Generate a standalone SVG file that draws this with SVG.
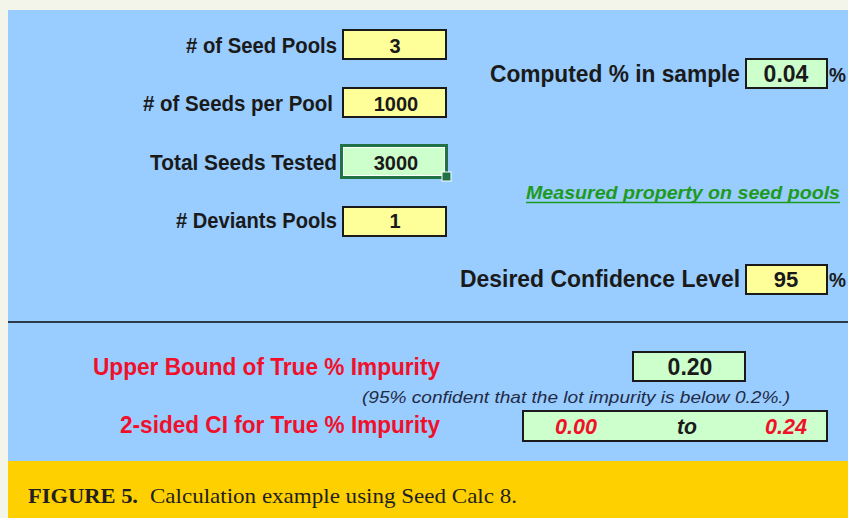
<svg xmlns="http://www.w3.org/2000/svg" width="848" height="518" viewBox="0 0 848 518">
<style>
.lbl{font-family:"Liberation Sans",Arial,sans-serif;font-weight:bold;fill:#1a1a1a}
.val{font-family:"Liberation Sans",Arial,sans-serif;font-weight:bold;fill:#1a1a1a}
.mid{text-anchor:middle}
.red{font-family:"Liberation Sans",Arial,sans-serif;font-weight:bold;fill:#f0102a}
.yb{fill:#ffff99;stroke:#1a1a1a;stroke-width:2}
.gb{fill:#ccffcc;stroke:#1a1a1a;stroke-width:2}
</style>
<rect x="0" y="0" width="848" height="518" fill="#f3f4ea"/>
<rect x="8" y="10" width="840" height="451" fill="#99ccff"/>
<rect x="8" y="461" width="840" height="57" fill="#ffd000"/>
<g id="connectors">
<line x1="8" y1="322" x2="848" y2="322" stroke="#2b3a4a" stroke-width="2"/>
</g>
<g id="seed-pools">
<text class="lbl" x="186" y="53" font-size="22" textLength="151" lengthAdjust="spacingAndGlyphs"># of Seed Pools</text>
<rect class="yb" x="343" y="30" width="103" height="29"/>
<text class="val mid" x="395" y="53" font-size="20">3</text>
</g>
<g id="seeds-per-pool">
<text class="lbl" x="143" y="111" font-size="22" textLength="190" lengthAdjust="spacingAndGlyphs"># of Seeds per Pool</text>
<rect class="yb" x="343" y="88" width="103" height="29"/>
<text class="val mid" x="396" y="111" font-size="20">1000</text>
</g>
<g id="total-seeds">
<text class="lbl" x="150" y="170" font-size="22" textLength="187" lengthAdjust="spacingAndGlyphs">Total Seeds Tested</text>
<rect x="341.5" y="145.5" width="105" height="32" fill="#ccffcc" stroke="#217346" stroke-width="3"/>
<rect x="343.5" y="147.5" width="101" height="28" fill="none" stroke="#ffffff" stroke-width="1"/>
<rect x="442" y="172" width="9" height="9" fill="#217346" stroke="#ffffff" stroke-width="1"/>
<text class="val mid" x="396" y="170" font-size="20">3000</text>
</g>
<g id="deviant-pools">
<text class="lbl" x="176" y="228" font-size="22" textLength="161" lengthAdjust="spacingAndGlyphs"># Deviants Pools</text>
<rect class="yb" x="343" y="207" width="103" height="29"/>
<text class="val mid" x="395" y="228" font-size="20">1</text>
</g>
<g id="computed">
<text class="lbl" x="490" y="82" font-size="23" textLength="250" lengthAdjust="spacingAndGlyphs">Computed % in sample</text>
<rect class="gb" x="746" y="59" width="81" height="29"/>
<text class="val mid" x="786" y="82" font-size="23">0.04</text>
<text class="lbl" x="829" y="82" font-size="21" textLength="17" lengthAdjust="spacingAndGlyphs">%</text>
</g>
<g id="measured-note">
<text x="526" y="199" font-family="'Liberation Sans',Arial,sans-serif" font-weight="bold" font-style="italic" font-size="18" fill="#1e9a1e" textLength="314" lengthAdjust="spacingAndGlyphs">Measured property on seed pools</text>
<line x1="526" y1="202.5" x2="840" y2="202.5" stroke="#1e9a1e" stroke-width="1.5"/>
</g>
<g id="confidence">
<text class="lbl" x="460" y="287" font-size="23" textLength="280" lengthAdjust="spacingAndGlyphs">Desired Confidence Level</text>
<rect class="yb" x="746" y="265" width="81" height="29"/>
<text class="val mid" x="786" y="287" font-size="22">95</text>
<text class="lbl" x="829" y="287" font-size="21" textLength="17" lengthAdjust="spacingAndGlyphs">%</text>
</g>
<g id="upper-bound">
<text class="red" x="93" y="375" font-size="23" textLength="347" lengthAdjust="spacingAndGlyphs">Upper Bound of True % Impurity</text>
<rect class="gb" x="633" y="352" width="112" height="29"/>
<text class="val mid" x="690" y="375" font-size="23">0.20</text>
<text x="362" y="403" font-family="'Liberation Sans',Arial,sans-serif" font-style="italic" font-size="17" fill="#1f2b45" textLength="428" lengthAdjust="spacingAndGlyphs">(95% confident that the lot impurity is below 0.2%.)</text>
</g>
<g id="two-sided-ci">
<text class="red" x="120" y="433" font-size="23" textLength="320" lengthAdjust="spacingAndGlyphs">2-sided CI for True % Impurity</text>
<rect class="gb" x="523" y="411" width="304" height="30"/>
<text x="555" y="434" font-family="'Liberation Sans',Arial,sans-serif" font-weight="bold" font-style="italic" font-size="22" fill="#f0102a" textLength="42" lengthAdjust="spacingAndGlyphs">0.00</text>
<text x="677" y="434" font-family="'Liberation Sans',Arial,sans-serif" font-weight="bold" font-style="italic" font-size="22" fill="#1a1a1a" textLength="20" lengthAdjust="spacingAndGlyphs">to</text>
<text x="765" y="434" font-family="'Liberation Sans',Arial,sans-serif" font-weight="bold" font-style="italic" font-size="22" fill="#f0102a" textLength="42" lengthAdjust="spacingAndGlyphs">0.24</text>
</g>
<g id="caption">
<text x="28" y="503" font-family="'Liberation Serif','Times New Roman',serif" font-size="22" fill="#231f20"><tspan font-weight="bold" textLength="110" lengthAdjust="spacingAndGlyphs">FIGURE 5.</tspan><tspan x="150" textLength="367" lengthAdjust="spacingAndGlyphs">Calculation example using Seed Calc 8.</tspan></text>
</g>
</svg>
